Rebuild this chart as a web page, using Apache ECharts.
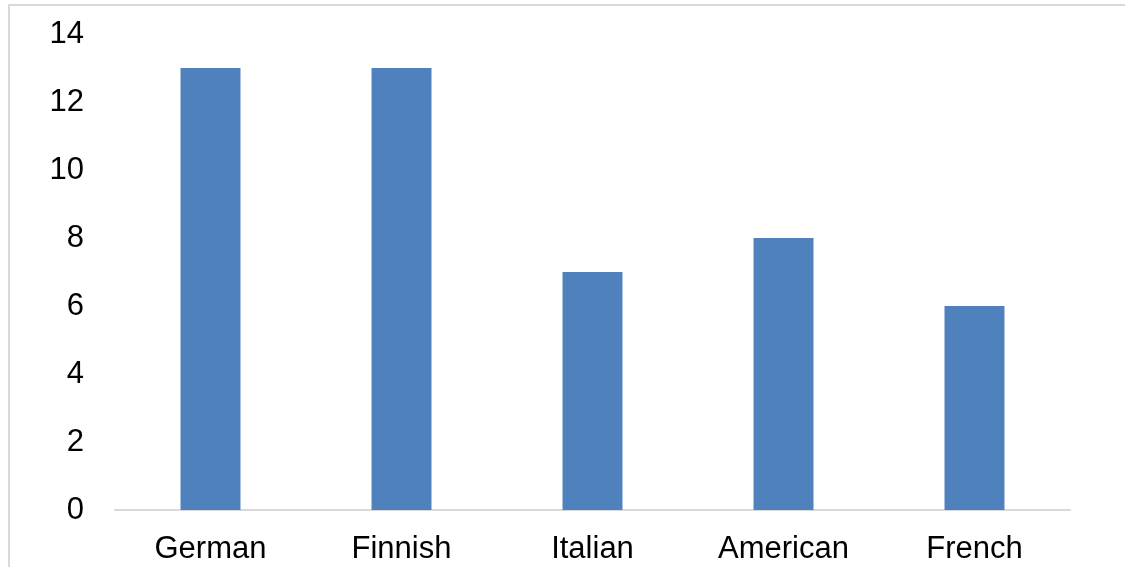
<!DOCTYPE html>
<html>
<head>
<meta charset="utf-8">
<script src="https://cdn.jsdelivr.net/npm/echarts@6/dist/echarts.min.js"></script>
<style>
  html, body { margin: 0; padding: 0; background: #fff; }
  #chart { width: 1125px; height: 567px; }
</style>
</head>
<body>
<div id="chart"></div>
<script>
// Number of responses per nationality
const categories = ['German', 'Finnish', 'Italian', 'American', 'French'];
const counts = [13, 13, 7, 8, 6];
const yTicks = { min: 0, max: 14, interval: 2 };

const chart = echarts.init(document.getElementById('chart'), null, { renderer: 'canvas' });

chart.setOption({
  animation: false,
  backgroundColor: '#ffffff',
  textStyle: { fontFamily: 'Liberation Sans, Arial, sans-serif' },
  graphic: [
    // chart frame (top and left edges)
    { type: 'line', shape: { x1: 8, y1: 5, x2: 1125, y2: 5 }, style: { stroke: '#d9d9d9', lineWidth: 2 } },
    { type: 'line', shape: { x1: 9, y1: 5, x2: 9, y2: 567 }, style: { stroke: '#d9d9d9', lineWidth: 2 } }
  ],
  grid: { left: 115, right: 55, top: 34, bottom: 57, containLabel: false },
  xAxis: {
    type: 'category',
    data: categories,
    axisLine: { show: true, lineStyle: { color: '#d9d9d9', width: 2 } },
    axisTick: { show: false },
    axisLabel: { color: '#000', fontSize: 31, margin: 24, fontFamily: 'Liberation Sans, Arial, sans-serif' }
  },
  yAxis: {
    type: 'value',
    min: yTicks.min,
    max: yTicks.max,
    interval: yTicks.interval,
    axisLine: { show: false },
    axisTick: { show: false },
    splitLine: { show: false },
    axisLabel: { color: '#000', fontSize: 31, margin: 31, fontFamily: 'Liberation Sans, Arial, sans-serif' }
  },
  series: [{
    type: 'bar',
    data: counts,
    barWidth: '31.4%',
    itemStyle: { color: '#4f81bd' }
  }]
});
</script>
</body>
</html>
